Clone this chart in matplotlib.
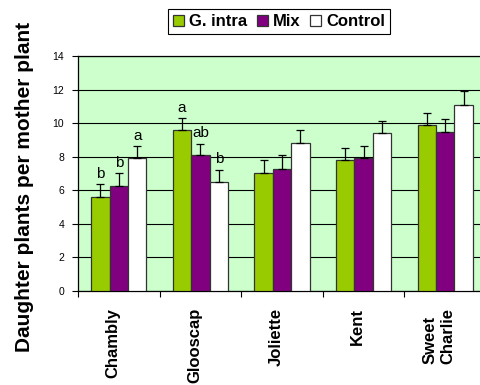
import matplotlib
matplotlib.use("Agg")
import matplotlib.pyplot as plt
import matplotlib.transforms as mtransforms
import numpy as np

plt.rcParams['font.family'] = ['Liberation Sans', 'DejaVu Sans']

cultivars = ["Chambly", "Glooscap", "Joliette", "Kent", "Sweet\nCharlie"]
series = ["G. intra", "Mix", "Control"]
gintra = [5.6, 9.6, 7.05, 7.8, 9.9]
mix = [6.25, 8.1, 7.3, 7.9, 9.5]
control = [7.9, 6.5, 8.85, 9.4, 11.1]
gintra_err = [0.75, 0.7, 0.78, 0.75, 0.73]
mix_err = [0.77, 0.68, 0.78, 0.75, 0.77]
control_err = [0.75, 0.74, 0.77, 0.76, 0.8]
# significance letters per cultivar (G. intra, Mix, Control)
letters = [["b", "b", "a"], ["a", "ab", "b"], ["", "", ""], ["", "", ""], ["", "", ""]]

colors = ["#99CC00", "#800080", "#FFFFFF"]

fig = plt.figure(figsize=(4.8, 3.85), dpi=100)
ax = fig.add_axes([0.1625, 0.244, 0.85, 0.6104])
ax.set_facecolor("#CCFFCC")

x = np.arange(len(cultivars))
w = 0.225
means = [gintra, mix, control]
errs = [gintra_err, mix_err, control_err]
for k in range(3):
    pos = x + (k - 1) * w
    ax.bar(pos, means[k], w, color=colors[k], edgecolor="#333333",
           linewidth=0.9, label=series[k], zorder=3)
    ax.errorbar(pos, means[k], yerr=[np.zeros(len(x)), errs[k]], fmt="none",
                ecolor="black", elinewidth=0.9, capsize=3, capthick=0.9, zorder=4)
    for i in range(len(x)):
        if letters[i][k]:
            ax.text(pos[i], means[k][i] + errs[k][i] + 0.2, letters[i][k],
                    ha="center", va="bottom", fontsize=11, zorder=5)

ax.set_ylim(0, 14)
ax.set_yticks(range(0, 15, 2))
ax.set_xlim(-0.5, len(x) - 0.5)
ax.grid(axis="y", color="black", linewidth=0.8, zorder=1)

ax.set_xticks(np.arange(-0.5, len(x), 1.0))
ax.set_xticklabels([])
ax.set_xticks(x, minor=True)
ax.set_xticklabels(cultivars, minor=True, rotation=90, fontweight="bold",
                   fontsize=12, va="top", ha="center", multialignment="left")
ax.tick_params(axis="x", which="minor", length=0, pad=12)
ax.tick_params(axis="x", which="major", length=4, width=0.8, direction="out")
ax.tick_params(axis="y", length=4, width=0.8, pad=6, labelsize=7.5)
shift = mtransforms.ScaledTranslation(-6 / 100, 0, fig.dpi_scale_trans)
for lab in ax.get_xticklabels(minor=True):
    lab.set_transform(lab.get_transform() + shift)

for s in ["left", "top", "bottom", "right"]:
    ax.spines[s].set_color("black")
    ax.spines[s].set_linewidth(0.9)

fig.text(25 / 480, 1 - 186.5 / 385, "Daughter plants per mother plant",
         rotation=90, ha="center", va="center", fontsize=15, fontweight="bold")

leg = fig.legend(loc="center", bbox_to_anchor=(0.581, 0.944), ncol=3,
                 frameon=True, fancybox=False, edgecolor="black", framealpha=1,
                 prop={"weight": "bold", "size": 12}, handlelength=0.65,
                 handleheight=0.65, handletextpad=0.3, columnspacing=0.6,
                 borderpad=0.3, borderaxespad=0)
leg.get_frame().set_linewidth(0.8)

fig.savefig("out.png", dpi=100)
